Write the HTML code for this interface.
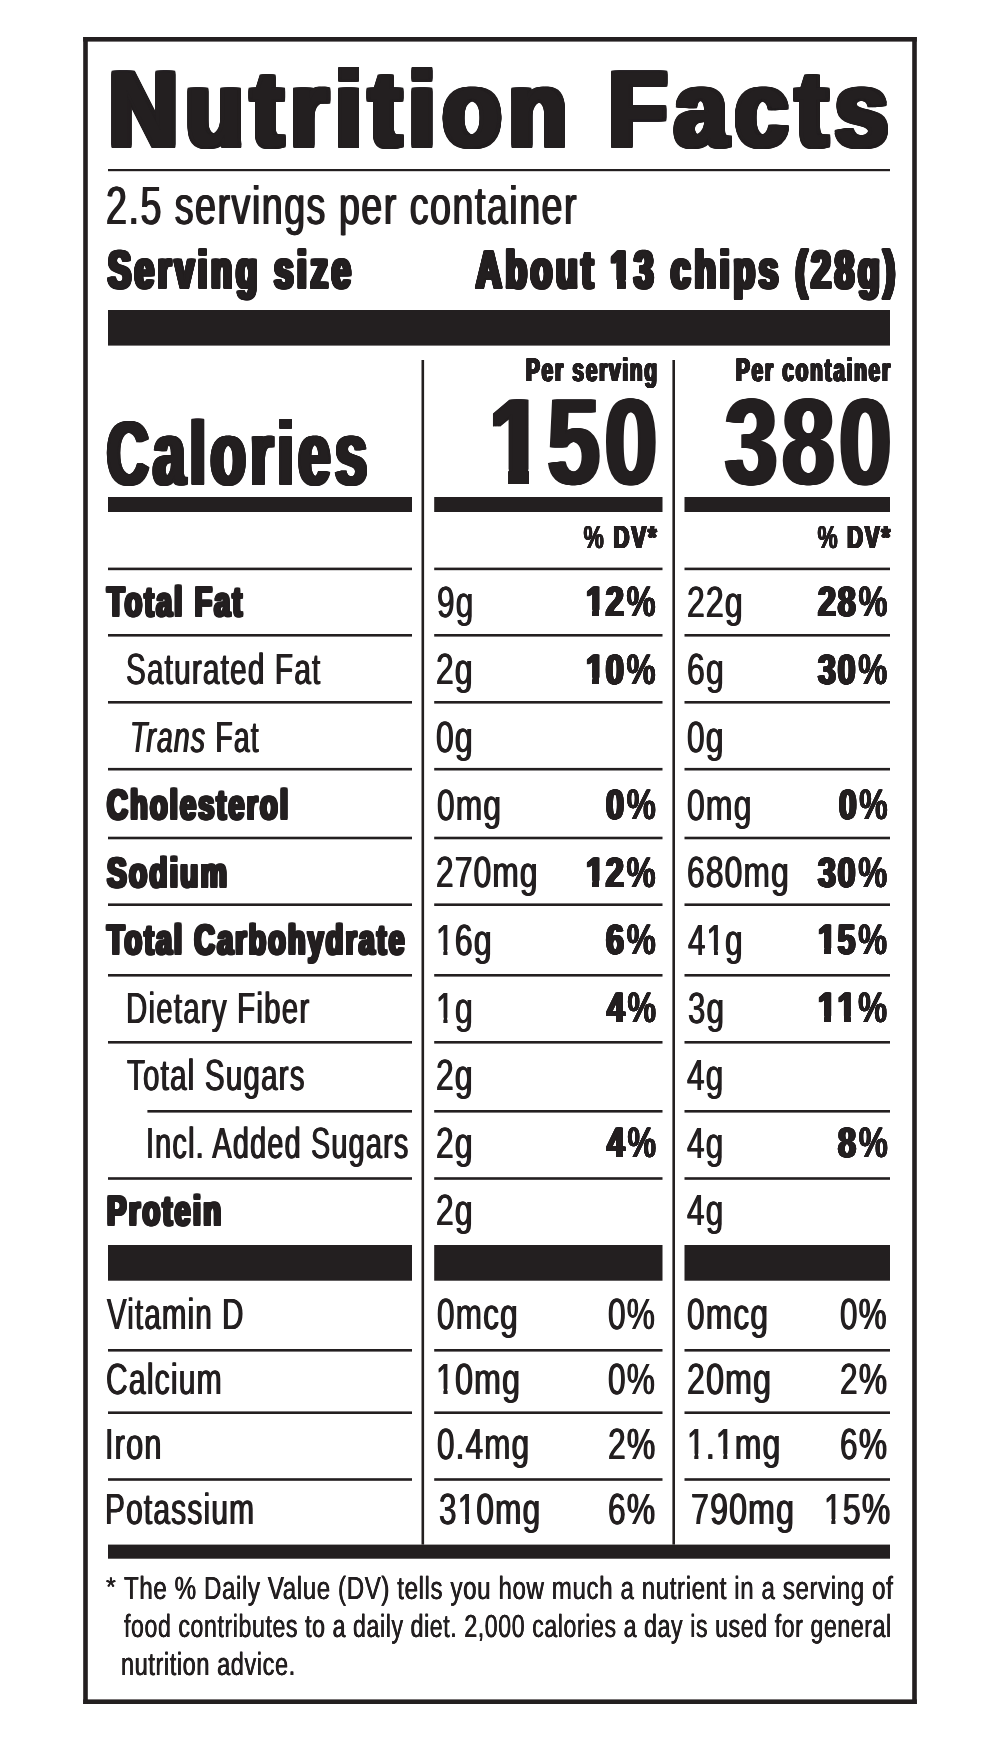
<!DOCTYPE html>
<html lang="en"><head><meta charset="utf-8"><title>Nutrition Facts</title>
<style>
html,body{margin:0;padding:0;background:#fff}
#label{will-change:transform;position:relative;width:1000px;height:1742px;overflow:hidden;background:#fff;color:#231f20;font-family:"Liberation Sans",sans-serif}
#rules{position:absolute;left:0;top:0}
.t{position:absolute;white-space:nowrap;line-height:1;transform-origin:0 0;font-weight:400;text-rendering:geometricPrecision;font-kerning:normal}
.b{font-weight:700}
.pc{font-weight:400;margin-left:.035em}
:root{--m:0px;--c:.66em}
.o1{display:inline-block;clip-path:polygon(-1em -1em,2em -1em,2em var(--c),calc(.3398em + var(--m)) var(--c),calc(.3398em + var(--m)) 2em,calc(.2515em - var(--m)) 2em,calc(.2515em - var(--m)) var(--c),-1em var(--c))}.b .o1{clip-path:polygon(-1em -1em,2em -1em,2em var(--c),calc(.3706em + var(--m)) var(--c),calc(.3706em + var(--m)) 2em,calc(.2334em - var(--m)) 2em,calc(.2334em - var(--m)) var(--c),-1em var(--c))}
</style></head><body>
<div id="label">
<svg id="rules" width="1000" height="1742" viewBox="0 0 1000 1742" fill="#231f20" shape-rendering="geometricPrecision"><rect x="83.20" y="37.00" width="833.60" height="4.60"/><rect x="83.20" y="1699.40" width="833.60" height="4.60"/><rect x="83.20" y="37.00" width="4.60" height="1667.00"/><rect x="912.20" y="37.00" width="4.60" height="1667.00"/><rect x="108.00" y="169.00" width="782.00" height="2.20"/><rect x="108.00" y="310.00" width="782.00" height="35.60"/><rect x="421.50" y="360.00" width="2.60" height="1184.60"/><rect x="672.40" y="360.00" width="2.60" height="1184.60"/><rect x="108.00" y="497.00" width="304.00" height="15.00"/><rect x="108.00" y="1245.00" width="304.00" height="35.70"/><rect x="434.20" y="497.00" width="228.30" height="15.00"/><rect x="434.20" y="1245.00" width="228.30" height="35.70"/><rect x="684.50" y="497.00" width="205.50" height="15.00"/><rect x="684.50" y="1245.00" width="205.50" height="35.70"/><rect x="108.00" y="567.60" width="304.00" height="2.60"/><rect x="434.20" y="567.60" width="228.30" height="2.60"/><rect x="684.50" y="567.60" width="205.50" height="2.60"/><rect x="108.00" y="634.00" width="304.00" height="2.60"/><rect x="434.20" y="634.00" width="228.30" height="2.60"/><rect x="684.50" y="634.00" width="205.50" height="2.60"/><rect x="108.00" y="701.00" width="304.00" height="2.60"/><rect x="434.20" y="701.00" width="228.30" height="2.60"/><rect x="684.50" y="701.00" width="205.50" height="2.60"/><rect x="108.00" y="767.90" width="304.00" height="2.60"/><rect x="434.20" y="767.90" width="228.30" height="2.60"/><rect x="684.50" y="767.90" width="205.50" height="2.60"/><rect x="108.00" y="836.70" width="304.00" height="2.60"/><rect x="434.20" y="836.70" width="228.30" height="2.60"/><rect x="684.50" y="836.70" width="205.50" height="2.60"/><rect x="108.00" y="903.40" width="304.00" height="2.60"/><rect x="434.20" y="903.40" width="228.30" height="2.60"/><rect x="684.50" y="903.40" width="205.50" height="2.60"/><rect x="108.00" y="974.00" width="304.00" height="2.60"/><rect x="434.20" y="974.00" width="228.30" height="2.60"/><rect x="684.50" y="974.00" width="205.50" height="2.60"/><rect x="108.00" y="1041.00" width="304.00" height="2.60"/><rect x="434.20" y="1041.00" width="228.30" height="2.60"/><rect x="684.50" y="1041.00" width="205.50" height="2.60"/><rect x="147.40" y="1110.00" width="264.60" height="2.60"/><rect x="434.20" y="1110.00" width="228.30" height="2.60"/><rect x="684.50" y="1110.00" width="205.50" height="2.60"/><rect x="108.00" y="1177.20" width="304.00" height="2.60"/><rect x="434.20" y="1177.20" width="228.30" height="2.60"/><rect x="684.50" y="1177.20" width="205.50" height="2.60"/><rect x="108.00" y="1349.00" width="304.00" height="2.60"/><rect x="434.20" y="1349.00" width="228.30" height="2.60"/><rect x="684.50" y="1349.00" width="205.50" height="2.60"/><rect x="108.00" y="1411.40" width="304.00" height="2.60"/><rect x="434.20" y="1411.40" width="228.30" height="2.60"/><rect x="684.50" y="1411.40" width="205.50" height="2.60"/><rect x="108.00" y="1478.20" width="304.00" height="2.60"/><rect x="434.20" y="1478.20" width="228.30" height="2.60"/><rect x="684.50" y="1478.20" width="205.50" height="2.60"/><rect x="108.00" y="1544.60" width="782.00" height="14.10"/></svg>
<div class="t b" style="left:108.61px;top:57.00px;font-size:106.40px;transform:scaleX(0.8961);letter-spacing:8.48px;text-shadow:-4.24px -1.80px 0 #231f20,-3.39px -1.80px 0 #231f20,-2.54px -1.80px 0 #231f20,-1.70px -1.80px 0 #231f20,-0.85px -1.80px 0 #231f20,0.00px -1.80px 0 #231f20,0.85px -1.80px 0 #231f20,1.70px -1.80px 0 #231f20,2.54px -1.80px 0 #231f20,3.39px -1.80px 0 #231f20,4.24px -1.80px 0 #231f20,-4.24px -1.20px 0 #231f20,-3.39px -1.20px 0 #231f20,-2.54px -1.20px 0 #231f20,-1.70px -1.20px 0 #231f20,-0.85px -1.20px 0 #231f20,0.00px -1.20px 0 #231f20,0.85px -1.20px 0 #231f20,1.70px -1.20px 0 #231f20,2.54px -1.20px 0 #231f20,3.39px -1.20px 0 #231f20,4.24px -1.20px 0 #231f20,-4.24px -0.60px 0 #231f20,-3.39px -0.60px 0 #231f20,-2.54px -0.60px 0 #231f20,-1.70px -0.60px 0 #231f20,-0.85px -0.60px 0 #231f20,0.00px -0.60px 0 #231f20,0.85px -0.60px 0 #231f20,1.70px -0.60px 0 #231f20,2.54px -0.60px 0 #231f20,3.39px -0.60px 0 #231f20,4.24px -0.60px 0 #231f20,-4.24px 0.00px 0 #231f20,-3.39px 0.00px 0 #231f20,-2.54px 0.00px 0 #231f20,-1.70px 0.00px 0 #231f20,-0.85px 0.00px 0 #231f20,0.85px 0.00px 0 #231f20,1.70px 0.00px 0 #231f20,2.54px 0.00px 0 #231f20,3.39px 0.00px 0 #231f20,4.24px 0.00px 0 #231f20,-4.24px 0.60px 0 #231f20,-3.39px 0.60px 0 #231f20,-2.54px 0.60px 0 #231f20,-1.70px 0.60px 0 #231f20,-0.85px 0.60px 0 #231f20,0.00px 0.60px 0 #231f20,0.85px 0.60px 0 #231f20,1.70px 0.60px 0 #231f20,2.54px 0.60px 0 #231f20,3.39px 0.60px 0 #231f20,4.24px 0.60px 0 #231f20,-4.24px 1.20px 0 #231f20,-3.39px 1.20px 0 #231f20,-2.54px 1.20px 0 #231f20,-1.70px 1.20px 0 #231f20,-0.85px 1.20px 0 #231f20,0.00px 1.20px 0 #231f20,0.85px 1.20px 0 #231f20,1.70px 1.20px 0 #231f20,2.54px 1.20px 0 #231f20,3.39px 1.20px 0 #231f20,4.24px 1.20px 0 #231f20,-4.24px 1.80px 0 #231f20,-3.39px 1.80px 0 #231f20,-2.54px 1.80px 0 #231f20,-1.70px 1.80px 0 #231f20,-0.85px 1.80px 0 #231f20,0.00px 1.80px 0 #231f20,0.85px 1.80px 0 #231f20,1.70px 1.80px 0 #231f20,2.54px 1.80px 0 #231f20,3.39px 1.80px 0 #231f20,4.24px 1.80px 0 #231f20">Nutrition Facts</div>
<div class="t" style="left:106.46px;top:179.60px;font-size:53.85px;transform:scaleX(0.6989);letter-spacing:2.15px;text-shadow:-1.07px 0.00px 0 #231f20,1.07px 0.00px 0 #231f20">2.5 servings per container</div>
<div class="t b" style="left:107.74px;top:243.70px;font-size:53.49px;transform:scaleX(0.6437);letter-spacing:5.90px;text-shadow:-2.95px -0.90px 0 #231f20,-1.97px -0.90px 0 #231f20,-0.98px -0.90px 0 #231f20,0.00px -0.90px 0 #231f20,0.98px -0.90px 0 #231f20,1.97px -0.90px 0 #231f20,2.95px -0.90px 0 #231f20,-2.95px -0.45px 0 #231f20,-1.97px -0.45px 0 #231f20,-0.98px -0.45px 0 #231f20,0.00px -0.45px 0 #231f20,0.98px -0.45px 0 #231f20,1.97px -0.45px 0 #231f20,2.95px -0.45px 0 #231f20,-2.95px 0.00px 0 #231f20,-1.97px 0.00px 0 #231f20,-0.98px 0.00px 0 #231f20,0.98px 0.00px 0 #231f20,1.97px 0.00px 0 #231f20,2.95px 0.00px 0 #231f20,-2.95px 0.45px 0 #231f20,-1.97px 0.45px 0 #231f20,-0.98px 0.45px 0 #231f20,0.00px 0.45px 0 #231f20,0.98px 0.45px 0 #231f20,1.97px 0.45px 0 #231f20,2.95px 0.45px 0 #231f20,-2.95px 0.90px 0 #231f20,-1.97px 0.90px 0 #231f20,-0.98px 0.90px 0 #231f20,0.00px 0.90px 0 #231f20,0.98px 0.90px 0 #231f20,1.97px 0.90px 0 #231f20,2.95px 0.90px 0 #231f20">Serving size</div>
<div class="t b" style="left:475.90px;top:243.70px;font-size:53.49px;transform:scaleX(0.6597);letter-spacing:5.76px;--m:2.50px;--c:36.04px;text-shadow:-2.88px -0.90px 0 #231f20,-1.92px -0.90px 0 #231f20,-0.96px -0.90px 0 #231f20,0.00px -0.90px 0 #231f20,0.96px -0.90px 0 #231f20,1.92px -0.90px 0 #231f20,2.88px -0.90px 0 #231f20,-2.88px -0.45px 0 #231f20,-1.92px -0.45px 0 #231f20,-0.96px -0.45px 0 #231f20,0.00px -0.45px 0 #231f20,0.96px -0.45px 0 #231f20,1.92px -0.45px 0 #231f20,2.88px -0.45px 0 #231f20,-2.88px 0.00px 0 #231f20,-1.92px 0.00px 0 #231f20,-0.96px 0.00px 0 #231f20,0.96px 0.00px 0 #231f20,1.92px 0.00px 0 #231f20,2.88px 0.00px 0 #231f20,-2.88px 0.45px 0 #231f20,-1.92px 0.45px 0 #231f20,-0.96px 0.45px 0 #231f20,0.00px 0.45px 0 #231f20,0.96px 0.45px 0 #231f20,1.92px 0.45px 0 #231f20,2.88px 0.45px 0 #231f20,-2.88px 0.90px 0 #231f20,-1.92px 0.90px 0 #231f20,-0.96px 0.90px 0 #231f20,0.00px 0.90px 0 #231f20,0.96px 0.90px 0 #231f20,1.92px 0.90px 0 #231f20,2.88px 0.90px 0 #231f20">About <span class="o1">1</span>3 chips (28g)</div>
<div class="t b" style="left:525.66px;top:353.50px;font-size:32.56px;transform:scaleX(0.6380);letter-spacing:2.82px;text-shadow:-1.41px -0.40px 0 #231f20,-0.71px -0.40px 0 #231f20,0.00px -0.40px 0 #231f20,0.71px -0.40px 0 #231f20,1.41px -0.40px 0 #231f20,-1.41px 0.00px 0 #231f20,-0.71px 0.00px 0 #231f20,0.71px 0.00px 0 #231f20,1.41px 0.00px 0 #231f20,-1.41px 0.40px 0 #231f20,-0.71px 0.40px 0 #231f20,0.00px 0.40px 0 #231f20,0.71px 0.40px 0 #231f20,1.41px 0.40px 0 #231f20">Per serving</div>
<div class="t b" style="left:735.87px;top:353.50px;font-size:32.56px;transform:scaleX(0.6368);letter-spacing:2.83px;text-shadow:-1.41px -0.40px 0 #231f20,-0.71px -0.40px 0 #231f20,0.00px -0.40px 0 #231f20,0.71px -0.40px 0 #231f20,1.41px -0.40px 0 #231f20,-1.41px 0.00px 0 #231f20,-0.71px 0.00px 0 #231f20,0.71px 0.00px 0 #231f20,1.41px 0.00px 0 #231f20,-1.41px 0.40px 0 #231f20,-0.71px 0.40px 0 #231f20,0.00px 0.40px 0 #231f20,0.71px 0.40px 0 #231f20,1.41px 0.40px 0 #231f20">Per container</div>
<div class="t b" style="left:107.23px;top:409.50px;font-size:89.83px;transform:scaleX(0.6386);letter-spacing:7.52px;text-shadow:-3.76px -0.50px 0 #231f20,-2.51px -0.50px 0 #231f20,-1.25px -0.50px 0 #231f20,0.00px -0.50px 0 #231f20,1.25px -0.50px 0 #231f20,2.51px -0.50px 0 #231f20,3.76px -0.50px 0 #231f20,-3.76px 0.00px 0 #231f20,-2.51px 0.00px 0 #231f20,-1.25px 0.00px 0 #231f20,1.25px 0.00px 0 #231f20,2.51px 0.00px 0 #231f20,3.76px 0.00px 0 #231f20,-3.76px 0.50px 0 #231f20,-2.51px 0.50px 0 #231f20,-1.25px 0.50px 0 #231f20,0.00px 0.50px 0 #231f20,1.25px 0.50px 0 #231f20,2.51px 0.50px 0 #231f20,3.76px 0.50px 0 #231f20">Calories</div>
<div class="t b" style="left:490.33px;top:380.60px;font-size:122.39px;transform:scaleX(0.7722);letter-spacing:6.22px;--m:2.78px;--c:88.90px;text-shadow:-3.11px 0.00px 0 #231f20,-2.07px 0.00px 0 #231f20,-1.04px 0.00px 0 #231f20,1.04px 0.00px 0 #231f20,2.07px 0.00px 0 #231f20,3.11px 0.00px 0 #231f20"><span class="o1" style="--m:4.34px;text-shadow:-4.66px 0.00px 0 #231f20,-3.73px 0.00px 0 #231f20,-2.80px 0.00px 0 #231f20,-1.86px 0.00px 0 #231f20,-0.93px 0.00px 0 #231f20,0.93px 0.00px 0 #231f20,1.86px 0.00px 0 #231f20,2.80px 0.00px 0 #231f20,3.73px 0.00px 0 #231f20,4.66px 0.00px 0 #231f20">1</span>50</div>
<div class="t b" style="left:725.09px;top:380.60px;font-size:122.39px;transform:scaleX(0.7684);letter-spacing:6.25px;text-shadow:-3.12px 0.00px 0 #231f20,-2.08px 0.00px 0 #231f20,-1.04px 0.00px 0 #231f20,1.04px 0.00px 0 #231f20,2.08px 0.00px 0 #231f20,3.12px 0.00px 0 #231f20">380</div>
<div class="t b" style="left:582.60px;top:522.10px;font-size:31.83px;transform:scaleX(0.7002);letter-spacing:2.57px;text-shadow:-1.29px -0.40px 0 #231f20,-0.64px -0.40px 0 #231f20,0.00px -0.40px 0 #231f20,0.64px -0.40px 0 #231f20,1.29px -0.40px 0 #231f20,-1.29px 0.00px 0 #231f20,-0.64px 0.00px 0 #231f20,0.64px 0.00px 0 #231f20,1.29px 0.00px 0 #231f20,-1.29px 0.40px 0 #231f20,-0.64px 0.40px 0 #231f20,0.00px 0.40px 0 #231f20,0.64px 0.40px 0 #231f20,1.29px 0.40px 0 #231f20"><span class="pc" style="text-shadow:-0.96px -0.20px 0 #231f20,0.00px -0.20px 0 #231f20,0.96px -0.20px 0 #231f20,-0.96px 0.00px 0 #231f20,0.96px 0.00px 0 #231f20,-0.96px 0.20px 0 #231f20,0.00px 0.20px 0 #231f20,0.96px 0.20px 0 #231f20">%</span> DV*</div>
<div class="t b" style="left:817.11px;top:522.10px;font-size:31.83px;transform:scaleX(0.6948);letter-spacing:2.59px;text-shadow:-1.30px -0.40px 0 #231f20,-0.65px -0.40px 0 #231f20,0.00px -0.40px 0 #231f20,0.65px -0.40px 0 #231f20,1.30px -0.40px 0 #231f20,-1.30px 0.00px 0 #231f20,-0.65px 0.00px 0 #231f20,0.65px 0.00px 0 #231f20,1.30px 0.00px 0 #231f20,-1.30px 0.40px 0 #231f20,-0.65px 0.40px 0 #231f20,0.00px 0.40px 0 #231f20,0.65px 0.40px 0 #231f20,1.30px 0.40px 0 #231f20"><span class="pc" style="text-shadow:-0.97px -0.20px 0 #231f20,0.00px -0.20px 0 #231f20,0.97px -0.20px 0 #231f20,-0.97px 0.00px 0 #231f20,0.97px 0.00px 0 #231f20,-0.97px 0.20px 0 #231f20,0.00px 0.20px 0 #231f20,0.97px 0.20px 0 #231f20">%</span> DV*</div>
<div class="t b" style="left:106.91px;top:581.10px;font-size:41.86px;transform:scaleX(0.6867);letter-spacing:3.17px;text-shadow:-2.11px -0.60px 0 #231f20,-1.06px -0.60px 0 #231f20,0.00px -0.60px 0 #231f20,1.06px -0.60px 0 #231f20,2.11px -0.60px 0 #231f20,-2.11px 0.00px 0 #231f20,-1.06px 0.00px 0 #231f20,1.06px 0.00px 0 #231f20,2.11px 0.00px 0 #231f20,-2.11px 0.60px 0 #231f20,-1.06px 0.60px 0 #231f20,0.00px 0.60px 0 #231f20,1.06px 0.60px 0 #231f20,2.11px 0.60px 0 #231f20">Total Fat</div>
<div class="t" style="left:436.72px;top:580.70px;font-size:43.68px;transform:scaleX(0.7227);letter-spacing:1.66px;text-shadow:-0.83px 0.00px 0 #231f20,0.83px 0.00px 0 #231f20">9g</div>
<div class="t b" style="left:586.04px;top:581.25px;font-size:42.39px;transform:scaleX(0.7632);letter-spacing:2.36px;--m:1.24px;--c:28.62px;text-shadow:-1.57px -0.45px 0 #231f20,-0.79px -0.45px 0 #231f20,0.00px -0.45px 0 #231f20,0.79px -0.45px 0 #231f20,1.57px -0.45px 0 #231f20,-1.57px 0.00px 0 #231f20,-0.79px 0.00px 0 #231f20,0.79px 0.00px 0 #231f20,1.57px 0.00px 0 #231f20,-1.57px 0.45px 0 #231f20,-0.79px 0.45px 0 #231f20,0.00px 0.45px 0 #231f20,0.79px 0.45px 0 #231f20,1.57px 0.45px 0 #231f20"><span class="o1">1</span>2<span class="pc" style="text-shadow:-1.18px -0.23px 0 #231f20,-0.59px -0.23px 0 #231f20,0.00px -0.23px 0 #231f20,0.59px -0.23px 0 #231f20,1.18px -0.23px 0 #231f20,-1.18px 0.00px 0 #231f20,-0.59px 0.00px 0 #231f20,0.59px 0.00px 0 #231f20,1.18px 0.00px 0 #231f20,-1.18px 0.23px 0 #231f20,-0.59px 0.23px 0 #231f20,0.00px 0.23px 0 #231f20,0.59px 0.23px 0 #231f20,1.18px 0.23px 0 #231f20">%</span></div>
<div class="t" style="left:686.93px;top:580.70px;font-size:43.68px;transform:scaleX(0.7310);letter-spacing:1.64px;text-shadow:-0.82px 0.00px 0 #231f20,0.82px 0.00px 0 #231f20">22g</div>
<div class="t b" style="left:818.06px;top:581.25px;font-size:42.39px;transform:scaleX(0.7608);letter-spacing:2.37px;text-shadow:-1.58px -0.45px 0 #231f20,-0.79px -0.45px 0 #231f20,0.00px -0.45px 0 #231f20,0.79px -0.45px 0 #231f20,1.58px -0.45px 0 #231f20,-1.58px 0.00px 0 #231f20,-0.79px 0.00px 0 #231f20,0.79px 0.00px 0 #231f20,1.58px 0.00px 0 #231f20,-1.58px 0.45px 0 #231f20,-0.79px 0.45px 0 #231f20,0.00px 0.45px 0 #231f20,0.79px 0.45px 0 #231f20,1.58px 0.45px 0 #231f20">28<span class="pc" style="text-shadow:-1.18px -0.23px 0 #231f20,-0.59px -0.23px 0 #231f20,0.00px -0.23px 0 #231f20,0.59px -0.23px 0 #231f20,1.18px -0.23px 0 #231f20,-1.18px 0.00px 0 #231f20,-0.59px 0.00px 0 #231f20,0.59px 0.00px 0 #231f20,1.18px 0.00px 0 #231f20,-1.18px 0.23px 0 #231f20,-0.59px 0.23px 0 #231f20,0.00px 0.23px 0 #231f20,0.59px 0.23px 0 #231f20,1.18px 0.23px 0 #231f20">%</span></div>
<div class="t" style="left:126.22px;top:649.34px;font-size:43.61px;transform:scaleX(0.6807);letter-spacing:1.76px;text-shadow:-0.88px 0.00px 0 #231f20,0.88px 0.00px 0 #231f20">Saturated Fat</div>
<div class="t" style="left:436.43px;top:648.34px;font-size:43.68px;transform:scaleX(0.7288);letter-spacing:1.65px;text-shadow:-0.82px 0.00px 0 #231f20,0.82px 0.00px 0 #231f20">2g</div>
<div class="t b" style="left:586.04px;top:648.89px;font-size:42.39px;transform:scaleX(0.7632);letter-spacing:2.36px;--m:1.24px;--c:28.62px;text-shadow:-1.57px -0.45px 0 #231f20,-0.79px -0.45px 0 #231f20,0.00px -0.45px 0 #231f20,0.79px -0.45px 0 #231f20,1.57px -0.45px 0 #231f20,-1.57px 0.00px 0 #231f20,-0.79px 0.00px 0 #231f20,0.79px 0.00px 0 #231f20,1.57px 0.00px 0 #231f20,-1.57px 0.45px 0 #231f20,-0.79px 0.45px 0 #231f20,0.00px 0.45px 0 #231f20,0.79px 0.45px 0 #231f20,1.57px 0.45px 0 #231f20"><span class="o1">1</span>0<span class="pc" style="text-shadow:-1.18px -0.23px 0 #231f20,-0.59px -0.23px 0 #231f20,0.00px -0.23px 0 #231f20,0.59px -0.23px 0 #231f20,1.18px -0.23px 0 #231f20,-1.18px 0.00px 0 #231f20,-0.59px 0.00px 0 #231f20,0.59px 0.00px 0 #231f20,1.18px 0.00px 0 #231f20,-1.18px 0.23px 0 #231f20,-0.59px 0.23px 0 #231f20,0.00px 0.23px 0 #231f20,0.59px 0.23px 0 #231f20,1.18px 0.23px 0 #231f20">%</span></div>
<div class="t" style="left:686.91px;top:648.34px;font-size:43.68px;transform:scaleX(0.7336);letter-spacing:1.64px;text-shadow:-0.82px 0.00px 0 #231f20,0.82px 0.00px 0 #231f20">6g</div>
<div class="t b" style="left:818.30px;top:648.89px;font-size:42.39px;transform:scaleX(0.7580);letter-spacing:2.37px;text-shadow:-1.58px -0.45px 0 #231f20,-0.79px -0.45px 0 #231f20,0.00px -0.45px 0 #231f20,0.79px -0.45px 0 #231f20,1.58px -0.45px 0 #231f20,-1.58px 0.00px 0 #231f20,-0.79px 0.00px 0 #231f20,0.79px 0.00px 0 #231f20,1.58px 0.00px 0 #231f20,-1.58px 0.45px 0 #231f20,-0.79px 0.45px 0 #231f20,0.00px 0.45px 0 #231f20,0.79px 0.45px 0 #231f20,1.58px 0.45px 0 #231f20">30<span class="pc" style="text-shadow:-1.19px -0.23px 0 #231f20,-0.59px -0.23px 0 #231f20,0.00px -0.23px 0 #231f20,0.59px -0.23px 0 #231f20,1.19px -0.23px 0 #231f20,-1.19px 0.00px 0 #231f20,-0.59px 0.00px 0 #231f20,0.59px 0.00px 0 #231f20,1.19px 0.00px 0 #231f20,-1.19px 0.23px 0 #231f20,-0.59px 0.23px 0 #231f20,0.00px 0.23px 0 #231f20,0.59px 0.23px 0 #231f20,1.19px 0.23px 0 #231f20">%</span></div>
<div class="t" style="left:129.88px;top:716.98px;font-size:43.61px;transform:scaleX(0.6491);letter-spacing:1.85px;text-shadow:-0.92px 0.00px 0 #231f20,0.92px 0.00px 0 #231f20"><i>Trans</i> Fat</div>
<div class="t" style="left:436.33px;top:715.98px;font-size:43.68px;transform:scaleX(0.7310);letter-spacing:1.64px;text-shadow:-0.82px 0.00px 0 #231f20,0.82px 0.00px 0 #231f20">0g</div>
<div class="t" style="left:687.34px;top:715.98px;font-size:43.68px;transform:scaleX(0.7243);letter-spacing:1.66px;text-shadow:-0.83px 0.00px 0 #231f20,0.83px 0.00px 0 #231f20">0g</div>
<div class="t b" style="left:106.65px;top:784.02px;font-size:41.86px;transform:scaleX(0.6916);letter-spacing:3.14px;text-shadow:-2.10px -0.60px 0 #231f20,-1.05px -0.60px 0 #231f20,0.00px -0.60px 0 #231f20,1.05px -0.60px 0 #231f20,2.10px -0.60px 0 #231f20,-2.10px 0.00px 0 #231f20,-1.05px 0.00px 0 #231f20,1.05px 0.00px 0 #231f20,2.10px 0.00px 0 #231f20,-2.10px 0.60px 0 #231f20,-1.05px 0.60px 0 #231f20,0.00px 0.60px 0 #231f20,1.05px 0.60px 0 #231f20,2.10px 0.60px 0 #231f20">Cholesterol</div>
<div class="t" style="left:436.84px;top:783.62px;font-size:43.68px;transform:scaleX(0.7247);letter-spacing:1.66px;text-shadow:-0.83px 0.00px 0 #231f20,0.83px 0.00px 0 #231f20">0mg</div>
<div class="t b" style="left:606.11px;top:784.17px;font-size:42.39px;transform:scaleX(0.7620);letter-spacing:2.36px;text-shadow:-1.57px -0.45px 0 #231f20,-0.79px -0.45px 0 #231f20,0.00px -0.45px 0 #231f20,0.79px -0.45px 0 #231f20,1.57px -0.45px 0 #231f20,-1.57px 0.00px 0 #231f20,-0.79px 0.00px 0 #231f20,0.79px 0.00px 0 #231f20,1.57px 0.00px 0 #231f20,-1.57px 0.45px 0 #231f20,-0.79px 0.45px 0 #231f20,0.00px 0.45px 0 #231f20,0.79px 0.45px 0 #231f20,1.57px 0.45px 0 #231f20">0<span class="pc" style="text-shadow:-1.18px -0.23px 0 #231f20,-0.59px -0.23px 0 #231f20,0.00px -0.23px 0 #231f20,0.59px -0.23px 0 #231f20,1.18px -0.23px 0 #231f20,-1.18px 0.00px 0 #231f20,-0.59px 0.00px 0 #231f20,0.59px 0.00px 0 #231f20,1.18px 0.00px 0 #231f20,-1.18px 0.23px 0 #231f20,-0.59px 0.23px 0 #231f20,0.00px 0.23px 0 #231f20,0.59px 0.23px 0 #231f20,1.18px 0.23px 0 #231f20">%</span></div>
<div class="t" style="left:687.33px;top:783.62px;font-size:43.68px;transform:scaleX(0.7309);letter-spacing:1.64px;text-shadow:-0.82px 0.00px 0 #231f20,0.82px 0.00px 0 #231f20">0mg</div>
<div class="t b" style="left:838.74px;top:784.17px;font-size:42.39px;transform:scaleX(0.7435);letter-spacing:2.42px;text-shadow:-1.61px -0.45px 0 #231f20,-0.81px -0.45px 0 #231f20,0.00px -0.45px 0 #231f20,0.81px -0.45px 0 #231f20,1.61px -0.45px 0 #231f20,-1.61px 0.00px 0 #231f20,-0.81px 0.00px 0 #231f20,0.81px 0.00px 0 #231f20,1.61px 0.00px 0 #231f20,-1.61px 0.45px 0 #231f20,-0.81px 0.45px 0 #231f20,0.00px 0.45px 0 #231f20,0.81px 0.45px 0 #231f20,1.61px 0.45px 0 #231f20">0<span class="pc" style="text-shadow:-1.21px -0.23px 0 #231f20,-0.61px -0.23px 0 #231f20,0.00px -0.23px 0 #231f20,0.61px -0.23px 0 #231f20,1.21px -0.23px 0 #231f20,-1.21px 0.00px 0 #231f20,-0.61px 0.00px 0 #231f20,0.61px 0.00px 0 #231f20,1.21px 0.00px 0 #231f20,-1.21px 0.23px 0 #231f20,-0.61px 0.23px 0 #231f20,0.00px 0.23px 0 #231f20,0.61px 0.23px 0 #231f20,1.21px 0.23px 0 #231f20">%</span></div>
<div class="t b" style="left:106.73px;top:851.66px;font-size:41.86px;transform:scaleX(0.7104);letter-spacing:3.06px;text-shadow:-2.04px -0.60px 0 #231f20,-1.02px -0.60px 0 #231f20,0.00px -0.60px 0 #231f20,1.02px -0.60px 0 #231f20,2.04px -0.60px 0 #231f20,-2.04px 0.00px 0 #231f20,-1.02px 0.00px 0 #231f20,1.02px 0.00px 0 #231f20,2.04px 0.00px 0 #231f20,-2.04px 0.60px 0 #231f20,-1.02px 0.60px 0 #231f20,0.00px 0.60px 0 #231f20,1.02px 0.60px 0 #231f20,2.04px 0.60px 0 #231f20">Sodium</div>
<div class="t" style="left:436.44px;top:851.26px;font-size:43.68px;transform:scaleX(0.7246);letter-spacing:1.66px;text-shadow:-0.83px 0.00px 0 #231f20,0.83px 0.00px 0 #231f20">270mg</div>
<div class="t b" style="left:586.04px;top:851.81px;font-size:42.39px;transform:scaleX(0.7632);letter-spacing:2.36px;--m:1.24px;--c:28.62px;text-shadow:-1.57px -0.45px 0 #231f20,-0.79px -0.45px 0 #231f20,0.00px -0.45px 0 #231f20,0.79px -0.45px 0 #231f20,1.57px -0.45px 0 #231f20,-1.57px 0.00px 0 #231f20,-0.79px 0.00px 0 #231f20,0.79px 0.00px 0 #231f20,1.57px 0.00px 0 #231f20,-1.57px 0.45px 0 #231f20,-0.79px 0.45px 0 #231f20,0.00px 0.45px 0 #231f20,0.79px 0.45px 0 #231f20,1.57px 0.45px 0 #231f20"><span class="o1">1</span>2<span class="pc" style="text-shadow:-1.18px -0.23px 0 #231f20,-0.59px -0.23px 0 #231f20,0.00px -0.23px 0 #231f20,0.59px -0.23px 0 #231f20,1.18px -0.23px 0 #231f20,-1.18px 0.00px 0 #231f20,-0.59px 0.00px 0 #231f20,0.59px 0.00px 0 #231f20,1.18px 0.00px 0 #231f20,-1.18px 0.23px 0 #231f20,-0.59px 0.23px 0 #231f20,0.00px 0.23px 0 #231f20,0.59px 0.23px 0 #231f20,1.18px 0.23px 0 #231f20">%</span></div>
<div class="t" style="left:686.93px;top:851.26px;font-size:43.68px;transform:scaleX(0.7262);letter-spacing:1.65px;text-shadow:-0.83px 0.00px 0 #231f20,0.83px 0.00px 0 #231f20">680mg</div>
<div class="t b" style="left:818.30px;top:851.81px;font-size:42.39px;transform:scaleX(0.7580);letter-spacing:2.37px;text-shadow:-1.58px -0.45px 0 #231f20,-0.79px -0.45px 0 #231f20,0.00px -0.45px 0 #231f20,0.79px -0.45px 0 #231f20,1.58px -0.45px 0 #231f20,-1.58px 0.00px 0 #231f20,-0.79px 0.00px 0 #231f20,0.79px 0.00px 0 #231f20,1.58px 0.00px 0 #231f20,-1.58px 0.45px 0 #231f20,-0.79px 0.45px 0 #231f20,0.00px 0.45px 0 #231f20,0.79px 0.45px 0 #231f20,1.58px 0.45px 0 #231f20">30<span class="pc" style="text-shadow:-1.19px -0.23px 0 #231f20,-0.59px -0.23px 0 #231f20,0.00px -0.23px 0 #231f20,0.59px -0.23px 0 #231f20,1.19px -0.23px 0 #231f20,-1.19px 0.00px 0 #231f20,-0.59px 0.00px 0 #231f20,0.59px 0.00px 0 #231f20,1.19px 0.00px 0 #231f20,-1.19px 0.23px 0 #231f20,-0.59px 0.23px 0 #231f20,0.00px 0.23px 0 #231f20,0.59px 0.23px 0 #231f20,1.19px 0.23px 0 #231f20">%</span></div>
<div class="t b" style="left:106.91px;top:919.30px;font-size:41.86px;transform:scaleX(0.6844);letter-spacing:3.18px;text-shadow:-2.12px -0.60px 0 #231f20,-1.06px -0.60px 0 #231f20,0.00px -0.60px 0 #231f20,1.06px -0.60px 0 #231f20,2.12px -0.60px 0 #231f20,-2.12px 0.00px 0 #231f20,-1.06px 0.00px 0 #231f20,1.06px 0.00px 0 #231f20,2.12px 0.00px 0 #231f20,-2.12px 0.60px 0 #231f20,-1.06px 0.60px 0 #231f20,0.00px 0.60px 0 #231f20,1.06px 0.60px 0 #231f20,2.12px 0.60px 0 #231f20">Total Carbohydrate</div>
<div class="t" style="left:436.27px;top:918.90px;font-size:43.68px;transform:scaleX(0.7304);letter-spacing:1.64px;--m:0.48px;--c:31.14px;text-shadow:-0.82px 0.00px 0 #231f20,0.82px 0.00px 0 #231f20"><span class="o1">1</span>6g</div>
<div class="t b" style="left:606.18px;top:919.45px;font-size:42.39px;transform:scaleX(0.7609);letter-spacing:2.37px;text-shadow:-1.58px -0.45px 0 #231f20,-0.79px -0.45px 0 #231f20,0.00px -0.45px 0 #231f20,0.79px -0.45px 0 #231f20,1.58px -0.45px 0 #231f20,-1.58px 0.00px 0 #231f20,-0.79px 0.00px 0 #231f20,0.79px 0.00px 0 #231f20,1.58px 0.00px 0 #231f20,-1.58px 0.45px 0 #231f20,-0.79px 0.45px 0 #231f20,0.00px 0.45px 0 #231f20,0.79px 0.45px 0 #231f20,1.58px 0.45px 0 #231f20">6<span class="pc" style="text-shadow:-1.18px -0.23px 0 #231f20,-0.59px -0.23px 0 #231f20,0.00px -0.23px 0 #231f20,0.59px -0.23px 0 #231f20,1.18px -0.23px 0 #231f20,-1.18px 0.00px 0 #231f20,-0.59px 0.00px 0 #231f20,0.59px 0.00px 0 #231f20,1.18px 0.00px 0 #231f20,-1.18px 0.23px 0 #231f20,-0.59px 0.23px 0 #231f20,0.00px 0.23px 0 #231f20,0.59px 0.23px 0 #231f20,1.18px 0.23px 0 #231f20">%</span></div>
<div class="t" style="left:687.95px;top:918.90px;font-size:43.68px;transform:scaleX(0.7164);letter-spacing:1.68px;--m:0.49px;--c:31.14px;text-shadow:-0.84px 0.00px 0 #231f20,0.84px 0.00px 0 #231f20">4<span class="o1">1</span>g</div>
<div class="t b" style="left:818.26px;top:919.45px;font-size:42.39px;transform:scaleX(0.7547);letter-spacing:2.38px;--m:1.26px;--c:28.62px;text-shadow:-1.59px -0.45px 0 #231f20,-0.79px -0.45px 0 #231f20,0.00px -0.45px 0 #231f20,0.79px -0.45px 0 #231f20,1.59px -0.45px 0 #231f20,-1.59px 0.00px 0 #231f20,-0.79px 0.00px 0 #231f20,0.79px 0.00px 0 #231f20,1.59px 0.00px 0 #231f20,-1.59px 0.45px 0 #231f20,-0.79px 0.45px 0 #231f20,0.00px 0.45px 0 #231f20,0.79px 0.45px 0 #231f20,1.59px 0.45px 0 #231f20"><span class="o1">1</span>5<span class="pc" style="text-shadow:-1.19px -0.23px 0 #231f20,-0.60px -0.23px 0 #231f20,0.00px -0.23px 0 #231f20,0.60px -0.23px 0 #231f20,1.19px -0.23px 0 #231f20,-1.19px 0.00px 0 #231f20,-0.60px 0.00px 0 #231f20,0.60px 0.00px 0 #231f20,1.19px 0.00px 0 #231f20,-1.19px 0.23px 0 #231f20,-0.60px 0.23px 0 #231f20,0.00px 0.23px 0 #231f20,0.60px 0.23px 0 #231f20,1.19px 0.23px 0 #231f20">%</span></div>
<div class="t" style="left:126.36px;top:987.54px;font-size:43.61px;transform:scaleX(0.6762);letter-spacing:1.77px;text-shadow:-0.89px 0.00px 0 #231f20,0.89px 0.00px 0 #231f20">Dietary Fiber</div>
<div class="t" style="left:436.26px;top:986.54px;font-size:43.68px;transform:scaleX(0.7326);letter-spacing:1.64px;--m:0.48px;--c:31.14px;text-shadow:-0.82px 0.00px 0 #231f20,0.82px 0.00px 0 #231f20"><span class="o1">1</span>g</div>
<div class="t b" style="left:606.91px;top:987.09px;font-size:42.39px;transform:scaleX(0.7490);letter-spacing:2.40px;text-shadow:-1.60px -0.45px 0 #231f20,-0.80px -0.45px 0 #231f20,0.00px -0.45px 0 #231f20,0.80px -0.45px 0 #231f20,1.60px -0.45px 0 #231f20,-1.60px 0.00px 0 #231f20,-0.80px 0.00px 0 #231f20,0.80px 0.00px 0 #231f20,1.60px 0.00px 0 #231f20,-1.60px 0.45px 0 #231f20,-0.80px 0.45px 0 #231f20,0.00px 0.45px 0 #231f20,0.80px 0.45px 0 #231f20,1.60px 0.45px 0 #231f20">4<span class="pc" style="text-shadow:-1.20px -0.23px 0 #231f20,-0.60px -0.23px 0 #231f20,0.00px -0.23px 0 #231f20,0.60px -0.23px 0 #231f20,1.20px -0.23px 0 #231f20,-1.20px 0.00px 0 #231f20,-0.60px 0.00px 0 #231f20,0.60px 0.00px 0 #231f20,1.20px 0.00px 0 #231f20,-1.20px 0.23px 0 #231f20,-0.60px 0.23px 0 #231f20,0.00px 0.23px 0 #231f20,0.60px 0.23px 0 #231f20,1.20px 0.23px 0 #231f20">%</span></div>
<div class="t" style="left:687.81px;top:986.54px;font-size:43.68px;transform:scaleX(0.7140);letter-spacing:1.68px;text-shadow:-0.84px 0.00px 0 #231f20,0.84px 0.00px 0 #231f20">3g</div>
<div class="t b" style="left:818.26px;top:987.09px;font-size:42.39px;transform:scaleX(0.7547);letter-spacing:2.38px;--m:1.26px;--c:28.62px;text-shadow:-1.59px -0.45px 0 #231f20,-0.79px -0.45px 0 #231f20,0.00px -0.45px 0 #231f20,0.79px -0.45px 0 #231f20,1.59px -0.45px 0 #231f20,-1.59px 0.00px 0 #231f20,-0.79px 0.00px 0 #231f20,0.79px 0.00px 0 #231f20,1.59px 0.00px 0 #231f20,-1.59px 0.45px 0 #231f20,-0.79px 0.45px 0 #231f20,0.00px 0.45px 0 #231f20,0.79px 0.45px 0 #231f20,1.59px 0.45px 0 #231f20"><span class="o1">1</span><span class="o1">1</span><span class="pc" style="text-shadow:-1.19px -0.23px 0 #231f20,-0.60px -0.23px 0 #231f20,0.00px -0.23px 0 #231f20,0.60px -0.23px 0 #231f20,1.19px -0.23px 0 #231f20,-1.19px 0.00px 0 #231f20,-0.60px 0.00px 0 #231f20,0.60px 0.00px 0 #231f20,1.19px 0.00px 0 #231f20,-1.19px 0.23px 0 #231f20,-0.60px 0.23px 0 #231f20,0.00px 0.23px 0 #231f20,0.60px 0.23px 0 #231f20,1.19px 0.23px 0 #231f20">%</span></div>
<div class="t" style="left:127.20px;top:1055.18px;font-size:43.61px;transform:scaleX(0.6779);letter-spacing:1.77px;text-shadow:-0.89px 0.00px 0 #231f20,0.89px 0.00px 0 #231f20">Total Sugars</div>
<div class="t" style="left:436.43px;top:1054.18px;font-size:43.68px;transform:scaleX(0.7288);letter-spacing:1.65px;text-shadow:-0.82px 0.00px 0 #231f20,0.82px 0.00px 0 #231f20">2g</div>
<div class="t" style="left:687.45px;top:1054.18px;font-size:43.68px;transform:scaleX(0.7221);letter-spacing:1.66px;text-shadow:-0.83px 0.00px 0 #231f20,0.83px 0.00px 0 #231f20">4g</div>
<div class="t" style="left:146.02px;top:1122.82px;font-size:43.61px;transform:scaleX(0.6606);letter-spacing:1.82px;text-shadow:-0.91px 0.00px 0 #231f20,0.91px 0.00px 0 #231f20">Incl. Added Sugars</div>
<div class="t" style="left:436.43px;top:1121.82px;font-size:43.68px;transform:scaleX(0.7288);letter-spacing:1.65px;text-shadow:-0.82px 0.00px 0 #231f20,0.82px 0.00px 0 #231f20">2g</div>
<div class="t b" style="left:606.91px;top:1122.37px;font-size:42.39px;transform:scaleX(0.7490);letter-spacing:2.40px;text-shadow:-1.60px -0.45px 0 #231f20,-0.80px -0.45px 0 #231f20,0.00px -0.45px 0 #231f20,0.80px -0.45px 0 #231f20,1.60px -0.45px 0 #231f20,-1.60px 0.00px 0 #231f20,-0.80px 0.00px 0 #231f20,0.80px 0.00px 0 #231f20,1.60px 0.00px 0 #231f20,-1.60px 0.45px 0 #231f20,-0.80px 0.45px 0 #231f20,0.00px 0.45px 0 #231f20,0.80px 0.45px 0 #231f20,1.60px 0.45px 0 #231f20">4<span class="pc" style="text-shadow:-1.20px -0.23px 0 #231f20,-0.60px -0.23px 0 #231f20,0.00px -0.23px 0 #231f20,0.60px -0.23px 0 #231f20,1.20px -0.23px 0 #231f20,-1.20px 0.00px 0 #231f20,-0.60px 0.00px 0 #231f20,0.60px 0.00px 0 #231f20,1.20px 0.00px 0 #231f20,-1.20px 0.23px 0 #231f20,-0.60px 0.23px 0 #231f20,0.00px 0.23px 0 #231f20,0.60px 0.23px 0 #231f20,1.20px 0.23px 0 #231f20">%</span></div>
<div class="t" style="left:687.45px;top:1121.82px;font-size:43.68px;transform:scaleX(0.7221);letter-spacing:1.66px;text-shadow:-0.83px 0.00px 0 #231f20,0.83px 0.00px 0 #231f20">4g</div>
<div class="t b" style="left:838.12px;top:1122.37px;font-size:42.39px;transform:scaleX(0.7618);letter-spacing:2.36px;text-shadow:-1.58px -0.45px 0 #231f20,-0.79px -0.45px 0 #231f20,0.00px -0.45px 0 #231f20,0.79px -0.45px 0 #231f20,1.58px -0.45px 0 #231f20,-1.58px 0.00px 0 #231f20,-0.79px 0.00px 0 #231f20,0.79px 0.00px 0 #231f20,1.58px 0.00px 0 #231f20,-1.58px 0.45px 0 #231f20,-0.79px 0.45px 0 #231f20,0.00px 0.45px 0 #231f20,0.79px 0.45px 0 #231f20,1.58px 0.45px 0 #231f20">8<span class="pc" style="text-shadow:-1.18px -0.23px 0 #231f20,-0.59px -0.23px 0 #231f20,0.00px -0.23px 0 #231f20,0.59px -0.23px 0 #231f20,1.18px -0.23px 0 #231f20,-1.18px 0.00px 0 #231f20,-0.59px 0.00px 0 #231f20,0.59px 0.00px 0 #231f20,1.18px 0.00px 0 #231f20,-1.18px 0.23px 0 #231f20,-0.59px 0.23px 0 #231f20,0.00px 0.23px 0 #231f20,0.59px 0.23px 0 #231f20,1.18px 0.23px 0 #231f20">%</span></div>
<div class="t b" style="left:106.51px;top:1189.86px;font-size:41.86px;transform:scaleX(0.7011);letter-spacing:3.10px;text-shadow:-2.07px -0.60px 0 #231f20,-1.03px -0.60px 0 #231f20,0.00px -0.60px 0 #231f20,1.03px -0.60px 0 #231f20,2.07px -0.60px 0 #231f20,-2.07px 0.00px 0 #231f20,-1.03px 0.00px 0 #231f20,1.03px 0.00px 0 #231f20,2.07px 0.00px 0 #231f20,-2.07px 0.60px 0 #231f20,-1.03px 0.60px 0 #231f20,0.00px 0.60px 0 #231f20,1.03px 0.60px 0 #231f20,2.07px 0.60px 0 #231f20">Protein</div>
<div class="t" style="left:436.43px;top:1189.46px;font-size:43.68px;transform:scaleX(0.7288);letter-spacing:1.65px;text-shadow:-0.82px 0.00px 0 #231f20,0.82px 0.00px 0 #231f20">2g</div>
<div class="t" style="left:687.45px;top:1189.46px;font-size:43.68px;transform:scaleX(0.7221);letter-spacing:1.66px;text-shadow:-0.83px 0.00px 0 #231f20,0.83px 0.00px 0 #231f20">4g</div>
<div class="t" style="left:106.70px;top:1293.80px;font-size:43.61px;transform:scaleX(0.6738);letter-spacing:1.78px;text-shadow:-0.89px 0.00px 0 #231f20,0.89px 0.00px 0 #231f20">Vitamin D</div>
<div class="t" style="left:436.85px;top:1292.80px;font-size:43.68px;transform:scaleX(0.7216);letter-spacing:1.66px;text-shadow:-0.83px 0.00px 0 #231f20,0.83px 0.00px 0 #231f20">0mcg</div>
<div class="t" style="left:608.15px;top:1292.80px;font-size:43.68px;transform:scaleX(0.7232);letter-spacing:1.66px;text-shadow:-0.83px 0.00px 0 #231f20,0.83px 0.00px 0 #231f20">0%</div>
<div class="t" style="left:687.34px;top:1292.80px;font-size:43.68px;transform:scaleX(0.7246);letter-spacing:1.66px;text-shadow:-0.83px 0.00px 0 #231f20,0.83px 0.00px 0 #231f20">0mcg</div>
<div class="t" style="left:840.16px;top:1292.80px;font-size:43.68px;transform:scaleX(0.7182);letter-spacing:1.67px;text-shadow:-0.84px 0.00px 0 #231f20,0.84px 0.00px 0 #231f20">0%</div>
<div class="t" style="left:106.02px;top:1358.50px;font-size:43.61px;transform:scaleX(0.6887);letter-spacing:1.74px;text-shadow:-0.87px 0.00px 0 #231f20,0.87px 0.00px 0 #231f20">Calcium</div>
<div class="t" style="left:436.25px;top:1357.50px;font-size:43.68px;transform:scaleX(0.7356);letter-spacing:1.63px;--m:0.48px;--c:31.14px;text-shadow:-0.82px 0.00px 0 #231f20,0.82px 0.00px 0 #231f20"><span class="o1">1</span>0mg</div>
<div class="t" style="left:608.15px;top:1357.50px;font-size:43.68px;transform:scaleX(0.7232);letter-spacing:1.66px;text-shadow:-0.83px 0.00px 0 #231f20,0.83px 0.00px 0 #231f20">0%</div>
<div class="t" style="left:686.92px;top:1357.50px;font-size:43.68px;transform:scaleX(0.7359);letter-spacing:1.63px;text-shadow:-0.82px 0.00px 0 #231f20,0.82px 0.00px 0 #231f20">20mg</div>
<div class="t" style="left:839.74px;top:1357.50px;font-size:43.68px;transform:scaleX(0.7249);letter-spacing:1.66px;text-shadow:-0.83px 0.00px 0 #231f20,0.83px 0.00px 0 #231f20">2%</div>
<div class="t" style="left:104.86px;top:1423.60px;font-size:43.61px;transform:scaleX(0.7019);letter-spacing:1.71px;text-shadow:-0.85px 0.00px 0 #231f20,0.85px 0.00px 0 #231f20">Iron</div>
<div class="t" style="left:436.85px;top:1422.60px;font-size:43.68px;transform:scaleX(0.7193);letter-spacing:1.67px;text-shadow:-0.83px 0.00px 0 #231f20,0.83px 0.00px 0 #231f20">0.4mg</div>
<div class="t" style="left:607.73px;top:1422.60px;font-size:43.68px;transform:scaleX(0.7299);letter-spacing:1.64px;text-shadow:-0.82px 0.00px 0 #231f20,0.82px 0.00px 0 #231f20">2%</div>
<div class="t" style="left:687.48px;top:1422.60px;font-size:43.68px;transform:scaleX(0.7284);letter-spacing:1.65px;--m:0.48px;--c:31.14px;text-shadow:-0.82px 0.00px 0 #231f20,0.82px 0.00px 0 #231f20"><span class="o1">1</span>.<span class="o1">1</span>mg</div>
<div class="t" style="left:839.73px;top:1422.60px;font-size:43.68px;transform:scaleX(0.7250);letter-spacing:1.66px;text-shadow:-0.83px 0.00px 0 #231f20,0.83px 0.00px 0 #231f20">6%</div>
<div class="t" style="left:105.13px;top:1488.80px;font-size:43.61px;transform:scaleX(0.6848);letter-spacing:1.75px;text-shadow:-0.88px 0.00px 0 #231f20,0.88px 0.00px 0 #231f20">Potassium</div>
<div class="t" style="left:438.80px;top:1487.80px;font-size:43.68px;transform:scaleX(0.7218);letter-spacing:1.66px;--m:0.48px;--c:31.14px;text-shadow:-0.83px 0.00px 0 #231f20,0.83px 0.00px 0 #231f20">3<span class="o1">1</span>0mg</div>
<div class="t" style="left:608.43px;top:1487.80px;font-size:43.68px;transform:scaleX(0.7267);letter-spacing:1.65px;text-shadow:-0.83px 0.00px 0 #231f20,0.83px 0.00px 0 #231f20">6%</div>
<div class="t" style="left:690.71px;top:1487.80px;font-size:43.68px;transform:scaleX(0.7355);letter-spacing:1.63px;text-shadow:-0.82px 0.00px 0 #231f20,0.82px 0.00px 0 #231f20">790mg</div>
<div class="t" style="left:823.67px;top:1487.80px;font-size:43.68px;transform:scaleX(0.7300);letter-spacing:1.64px;--m:0.48px;--c:31.14px;text-shadow:-0.82px 0.00px 0 #231f20,0.82px 0.00px 0 #231f20"><span class="o1">1</span>5%</div>
<div class="t" style="left:106.09px;top:1574.00px;font-size:27.04px;transform:scaleX(0.9340);letter-spacing:0.64px;text-shadow:-0.32px 0.00px 0 #231f20,0.32px 0.00px 0 #231f20">*</div>
<div class="t" style="left:124.36px;top:1572.00px;font-size:31.98px;transform:scaleX(0.7540);letter-spacing:0.80px;text-shadow:-0.40px 0.00px 0 #231f20,0.40px 0.00px 0 #231f20">The % Daily Value (DV) tells you how much a nutrient in a serving of</div>
<div class="t" style="left:124.44px;top:1610.00px;font-size:31.98px;transform:scaleX(0.7230);letter-spacing:0.83px;text-shadow:-0.41px 0.00px 0 #231f20,0.41px 0.00px 0 #231f20">food contributes to a daily diet. 2,000 calories a day is used for general</div>
<div class="t" style="left:121.38px;top:1647.80px;font-size:31.98px;transform:scaleX(0.7349);letter-spacing:0.82px;text-shadow:-0.41px 0.00px 0 #231f20,0.41px 0.00px 0 #231f20">nutrition advice.</div>
</div>
</body></html>
